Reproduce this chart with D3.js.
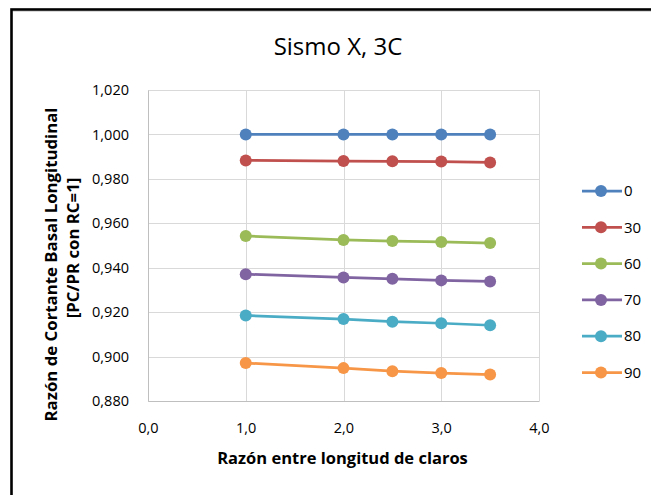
<!DOCTYPE html>
<html>
<head>
<meta charset="utf-8">
<script src="https://cdn.jsdelivr.net/npm/d3@7"></script>
<style>
  html, body { margin: 0; padding: 0; background: #fff; }
  svg { display: block; }
  text { font-family: "Open Sans", "Noto Sans", sans-serif; fill: #000; }
</style>
</head>
<body>
<svg id="chart" width="651" height="495"></svg>
<script>
// Span-length ratio (x) for every series
const spanRatios = [1.0, 2.0, 2.5, 3.0, 3.5];

// Series names (legend) and their basal shear ratios
const seriesNames = ["0", "30", "60", "70", "80", "90"];
const s0  = [1.0000, 1.0000, 1.0000, 1.0000, 1.0000];
const s30 = [0.9883, 0.9880, 0.9879, 0.9878, 0.9874];
const s60 = [0.9543, 0.9525, 0.9520, 0.9516, 0.9511];
const s70 = [0.9371, 0.9356, 0.9350, 0.9343, 0.9338];
const s80 = [0.9185, 0.9169, 0.9157, 0.9150, 0.9141];
const s90 = [0.8971, 0.8948, 0.8934, 0.8926, 0.8919];
const seriesValues = [s0, s30, s60, s70, s80, s90];
const seriesColors = ["#4f81bd", "#c0504d", "#9bbb59", "#8064a2", "#4bacc6", "#f79646"];

// Axis ticks
const xTicks = [0, 1, 2, 3, 4];
const yTicks = [0.88, 0.90, 0.92, 0.94, 0.96, 0.98, 1.00, 1.02];

const title = "Sismo X, 3C";
const xTitle = "Razón entre longitud de claros";
const yTitle1 = "Razón de Cortante Basal Longitudinal";
const yTitle2 = "[PC/PR con RC=1]";

const svg = d3.select("#chart");

// Outer frame (black, thick, only top/left visible in the window)
svg.append("rect")
  .attr("x", 11.5).attr("y", 9.5)
  .attr("width", 700).attr("height", 600)
  .attr("fill", "#fff")
  .attr("stroke", "#000").attr("stroke-width", 2.6);
svg.append("line")
  .attr("x1", 13).attr("x2", 651).attr("y1", 11.5).attr("y2", 11.5)
  .attr("stroke", "#d9d9d9").attr("stroke-width", 1);

const plot = { left: 148, right: 539, top: 90, bottom: 401 };

const x = d3.scaleLinear().domain([0, 4]).range([plot.left, plot.right]);
const y = d3.scaleLinear().domain([0.88, 1.02]).range([plot.bottom, plot.top]);

// Gridlines
const grid = svg.append("g").attr("class", "grid");
grid.selectAll("line.h").data(yTicks).join("line")
  .attr("class", "h")
  .attr("x1", plot.left).attr("x2", plot.right)
  .attr("y1", d => Math.round(y(d)) + 0.5).attr("y2", d => Math.round(y(d)) + 0.5)
  .attr("stroke", "#d9d9d9").attr("stroke-width", 1);
grid.selectAll("line.v").data(xTicks).join("line")
  .attr("class", "v")
  .attr("y1", plot.top).attr("y2", plot.bottom)
  .attr("x1", d => Math.round(x(d)) + 0.5).attr("x2", d => Math.round(x(d)) + 0.5)
  .attr("stroke", "#d9d9d9").attr("stroke-width", 1);

// Axes (labels only; lines come from the grid/frame)
const fmtY = v => d3.format(".3f")(v).replace(".", ",");
const fmtX = v => d3.format(".1f")(v).replace(".", ",");

const yAxis = svg.append("g")
  .attr("transform", `translate(${plot.left},0)`)
  .call(d3.axisLeft(y).tickValues(yTicks).tickFormat(fmtY).tickSize(0).tickPadding(19));
yAxis.select(".domain").attr("stroke", "#bfbfbf");
yAxis.selectAll("text").attr("font-size", 14.5).attr("fill", "#262626")
  .style("font-family", "'Open Sans', sans-serif");

const xAxis = svg.append("g")
  .attr("transform", `translate(0,${plot.bottom})`)
  .call(d3.axisBottom(x).tickValues(xTicks).tickFormat(fmtX).tickSize(0).tickPadding(22));
xAxis.select(".domain").attr("stroke", "#bfbfbf");
xAxis.selectAll("text").attr("font-size", 14.5).attr("fill", "#262626")
  .style("font-family", "'Open Sans', sans-serif");

// Series lines and markers
const line = d3.line().x((d, i) => x(spanRatios[i])).y(d => y(d));
seriesValues.forEach((vals, k) => {
  const g = svg.append("g");
  g.append("path").datum(vals)
    .attr("d", line)
    .attr("fill", "none")
    .attr("stroke", seriesColors[k])
    .attr("stroke-width", 2.75)
    .attr("stroke-linejoin", "round");
  g.selectAll("circle").data(vals).join("circle")
    .attr("cx", (d, i) => x(spanRatios[i]))
    .attr("cy", d => y(d))
    .attr("r", 6)
    .attr("fill", seriesColors[k]);
});

// Legend
const legY = d3.scalePoint().domain(seriesNames).range([191, 372.5]);
const leg = svg.append("g");
seriesNames.forEach((name, k) => {
  const yy = legY(name);
  leg.append("line")
    .attr("x1", 582).attr("x2", 622).attr("y1", yy).attr("y2", yy)
    .attr("stroke", seriesColors[k]).attr("stroke-width", 2.75);
  leg.append("circle").attr("cx", 601).attr("cy", yy).attr("r", 6)
    .attr("fill", seriesColors[k]);
  leg.append("text").attr("x", 624).attr("y", yy)
    .attr("dy", "0.35em").attr("font-size", 15).attr("fill", "#262626")
    .text(name);
});

// Titles
svg.append("text")
  .attr("x", 338).attr("y", 55)
  .attr("text-anchor", "middle")
  .attr("font-size", 24).attr("fill", "#262626")
  .text(title);

svg.append("text")
  .attr("x", 342.5).attr("y", 464)
  .attr("text-anchor", "middle")
  .attr("font-size", 16.5).attr("font-weight", "bold")
  .text(xTitle);

svg.append("text")
  .attr("transform", "translate(57,264.5) rotate(-90)")
  .attr("text-anchor", "middle")
  .attr("font-size", 16.8).attr("font-weight", "bold")
  .text(yTitle1);
svg.append("text")
  .attr("transform", "translate(78.5,248) rotate(-90)")
  .attr("text-anchor", "middle")
  .attr("font-size", 16.8).attr("font-weight", "bold")
  .text(yTitle2);
</script>
</body>
</html>
